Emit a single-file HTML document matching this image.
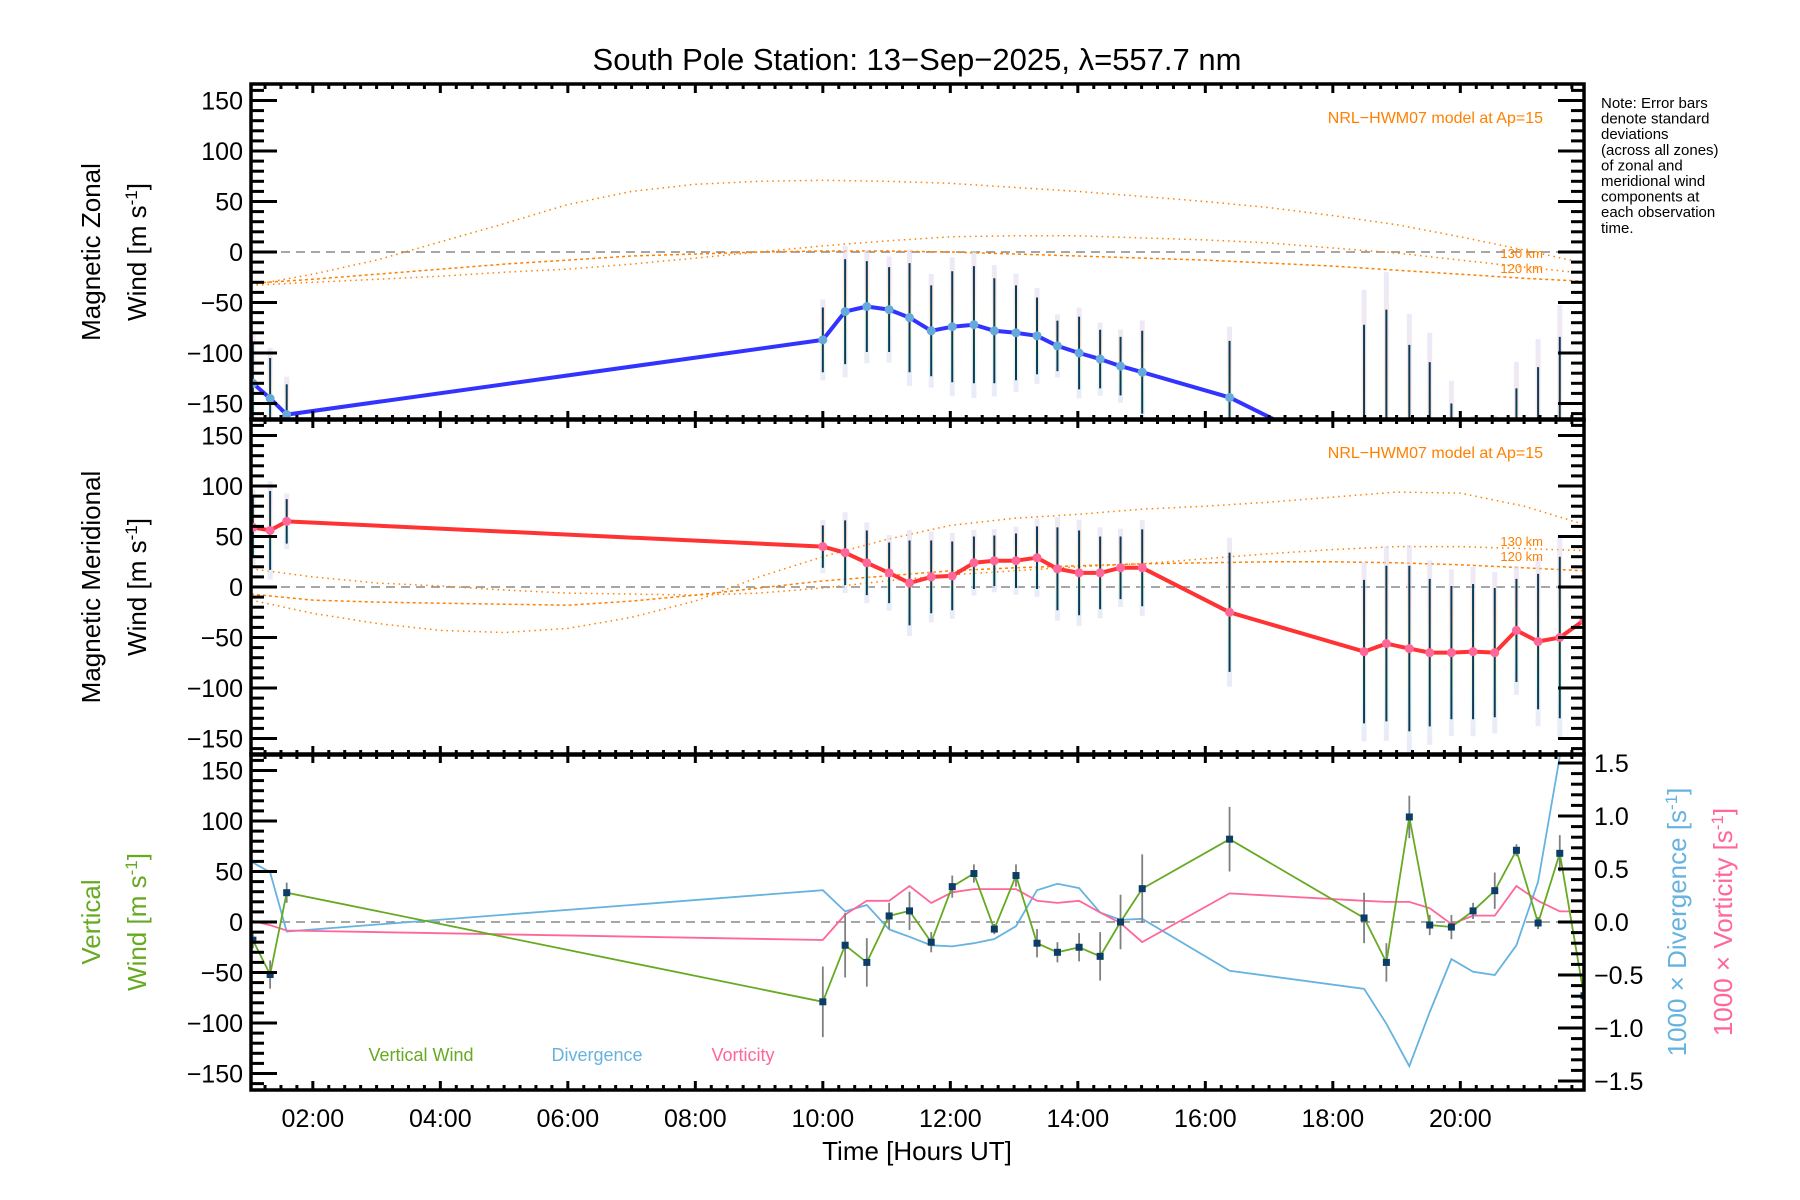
<!DOCTYPE html>
<html><head><meta charset="utf-8"><title>South Pole Station winds</title>
<style>
html,body{margin:0;padding:0;background:#fff;}
svg{display:block;font-family:"Liberation Sans",sans-serif;}
</style></head>
<body>
<svg id="chart" width="1800" height="1200" viewBox="0 0 1800 1200" xmlns="http://www.w3.org/2000/svg">
<defs>
<linearGradient id="pastel" x1="0" y1="0" x2="0" y2="1">
<stop offset="0" stop-color="#dcdcf6"/><stop offset="0.25" stop-color="#ffd6c6"/>
<stop offset="0.5" stop-color="#f8f2c8"/><stop offset="0.75" stop-color="#d4f4e0"/>
<stop offset="1" stop-color="#dcdcf6"/></linearGradient>
<clipPath id="clip0"><rect x="251" y="84" width="1333" height="336"/></clipPath>
<clipPath id="clip1"><rect x="251" y="419" width="1333" height="336"/></clipPath>
<clipPath id="clip2"><rect x="251" y="754" width="1333" height="337"/></clipPath>
</defs>
<text x="917" y="70" font-size="31" text-anchor="middle">South Pole Station: 13−Sep−2025, λ=557.7 nm</text>
<g id="notes" font-size="15">
<text x="1601" y="108">Note: Error bars</text><text x="1601" y="123.6">denote standard</text>
<text x="1601" y="139.2">deviations</text><text x="1601" y="154.8">(across all zones)</text>
<text x="1601" y="170.4">of zonal and</text><text x="1601" y="186">meridional wind</text>
<text x="1601" y="201.6">components at</text><text x="1601" y="217.2">each observation</text>
<text x="1601" y="232.8">time.</text></g>
</svg>
<script>
// ---- data ----
const obsHours = [1.06,1.33,1.59,10.0,10.35,10.69,11.04,11.36,11.70,12.03,12.37,12.69,13.03,13.36,13.68,14.02,14.35,14.67,15.01,16.38,18.49,18.84,19.20,19.52,19.86,20.20,20.54,20.88,21.22,21.56,21.94];
const zonal = [-130,-145,-161,-87,-59,-54,-57,-65,-78,-74,-72,-78,-80,-83,-93,-100,-106,-113,-119,-144,-210,-205,-215,-225,-240,-250,-250,-240,-225,-210,-200];
const zonalErr = [40,40,30,32,52,45,42,54,45,55,58,52,47,38,25,36,29,29,41,56,138,148,123,116,90,70,70,105,111,126,130];
const merid = [59,56,65,40,34,24,14,4,10,11,24,26,26,29,18,14,14,19,19,-25,-64,-56,-61,-65,-65,-64,-65,-43,-54,-50,-33];
const meridErr = [30,39,22,21,32,32,30,42,36,34,26,25,27,31,41,42,36,31,38,59,71,77,82,73,66,67,64,51,67,80,70];
const vert = [-18,-52,29,-79,-23,-40,6,11,-20,35,48,-7,46,-21,-30,-25,-34,0,33,82,4,-40,104,-3,-5,11,31,71,-1,68,-73];
const vertErr = [8,14,10,35,32,24,13,19,10,11,9,5,11,14,10,14,24,27,34,32,25,19,21,10,12,8,18,6,6,18,10];
const divergence = [0.56,0.47,-0.09,0.3,0.1,0.16,-0.07,-0.14,-0.22,-0.23,-0.2,-0.16,-0.04,0.3,0.36,0.32,0.09,0.02,0.03,-0.46,-0.63,-0.96,-1.36,-0.85,-0.35,-0.47,-0.5,-0.22,0.38,1.56,2.4];
const vorticity = [0.01,-0.03,-0.08,-0.17,0.07,0.2,0.2,0.34,0.18,0.28,0.31,0.31,0.31,0.2,0.18,0.2,0.09,-0.01,-0.19,0.27,0.2,0.19,0.19,0.13,-0.02,0.06,0.06,0.34,0.2,0.1,0.1];
const modelHours = [1.03,2,3,4,5,6,7,8,9,10,11,12,13,14,15,16,17,18,19,20,21,21.94];
const hwmZonalA = [-33,-22,-8,10,28,47,60,67,70,71,70,68,64,60,55,50,44,36,27,15,2,-11];
const hwmZonal130 = [-33,-30,-27,-24,-20,-17,-12,-6,0,6,11,15,16,16,14,12,9,4,-1,-8,-15,-21];
const hwmZonal120 = [-31,-27,-22,-17,-12,-8,-4,-2,0,1,1,0,-2,-4,-6,-8,-11,-14,-18,-22,-26,-29];
const hwmMeridA = [-13,-26,-36,-43,-45,-41,-30,-14,10,30,47,61,68,72,77,80,84,89,94,93,80,62];
const hwmMerid130 = [18,10,4,1,-3,-6,-7,-8,-6,-1,6,12,16,20,23,28,33,37,40,40,38,36];
const hwmMerid120 = [-7,-13,-15,-16,-17,-18,-14,-8,-1,6,11,16,19,21,23,24,25,25,24,22,19,16];
const xTickHours = [2,4,6,8,10,12,14,16,18,20];
const xTickLabels = ["02:00","04:00","06:00","08:00","10:00","12:00","14:00","16:00","18:00","20:00"];
const yTickValues = [150,100,50,0,-50,-100,-150];
const rTickValues = [1.5,1.0,0.5,0.0,-0.5,-1.0,-1.5];

// ---- axes functions ----
const X0=251, X1=1584, H0=1.03, H1=21.94;
const TOPS=[84,419,754], PH=336;
function xs(h){return X0+(h-H0)*(X1-X0)/(H1-H0);}
function ys(v,p){return TOPS[p]+PH/2-v*1.01;}
function yr(v){return TOPS[2]+PH/2-v*106;}
const svg=document.getElementById('chart');
const NS='http://www.w3.org/2000/svg';
function mk(tag,attrs,parent){const e=document.createElementNS(NS,tag);for(const k in attrs)e.setAttribute(k,attrs[k]);(parent||svg).appendChild(e);return e;}
function fmt(v){const s=Number.isInteger(v)?String(Math.abs(v)):Math.abs(v).toFixed(1);return (v<0?'−':'')+s;}

const panels=[];
for(let p=0;p<3;p++){
  const g=mk('g',{'clip-path':'url(#clip'+p+')'});
  
  
  panels.push(g);
  const z=mk('line',{x1:X0,x2:X1,y1:ys(0,p),y2:ys(0,p),stroke:'#888',"stroke-width":1.5,"stroke-dasharray":"9,6"},g);
  
  
}
function pathFrom(xsArr,ysArr){return xsArr.map((x,i)=>(i?'L':'M')+x.toFixed(1)+','+ysArr[i].toFixed(1)).join(' ');}

function model(vals,p,dash,name){
  const e=mk('path',{d:pathFrom(modelHours.map(xs),vals.map(v=>ys(v,p))),fill:'none',stroke:'#ff8000','stroke-width':1.5,'stroke-dasharray':dash},panels[p]);
  
  
}
model(hwmZonalA,0,'1.5,4','hwm-zonal-upper-curve');
model(hwmZonal130,0,'1.5,4','hwm-zonal-130km-curve');
model(hwmZonal120,0,'3,3','hwm-zonal-120km-curve');
model(hwmMeridA,1,'1.5,4','hwm-meridional-upper-curve');
model(hwmMerid130,1,'1.5,4','hwm-meridional-130km-curve');
model(hwmMerid120,1,'3,3','hwm-meridional-120km-curve');

function windPanel(vals,errs,p,col,mcol,name){
  const g=panels[p];
  obsHours.forEach((h,i)=>{
    const x=xs(h),e=errs[i],v=vals[i];
    const c=mk('rect',{x:x-2.5,y:ys(v+e*1.25,p),width:5,height:ys(v-e*1.25,p)-ys(v+e*1.25,p),fill:'url(#pastel)',opacity:0.6},g);
    
    
    const b=mk('line',{x1:x,x2:x,y1:ys(v+e,p),y2:ys(v-e,p),stroke:'#0a3a5a','stroke-width':2},g);
    
    
  });
  const l=mk('path',{d:pathFrom(obsHours.map(xs),vals.map(v=>ys(v,p))),fill:'none',stroke:col,'stroke-width':4,'stroke-linejoin':'round'},g);
  
  
  obsHours.forEach((h,i)=>{
    const m=mk('circle',{cx:xs(h),cy:ys(vals[i],p),r:4.5,fill:mcol},g);
    
    
  });
}
windPanel(zonal,zonalErr,0,'#3333ff','#66aadd','zonal-wind');
windPanel(merid,meridErr,1,'#ff3333','#ff6699','meridional-wind');

{
  const g=panels[2];
  const dv=mk('path',{d:pathFrom(obsHours.map(xs),divergence.map(yr)),fill:'none',stroke:'#66b3e0','stroke-width':1.8},g);
  
  
  const vo=mk('path',{d:pathFrom(obsHours.map(xs),vorticity.map(yr)),fill:'none',stroke:'#ff6699','stroke-width':1.8},g);
  
  
  obsHours.forEach((h,i)=>{
    const b=mk('line',{x1:xs(h),x2:xs(h),y1:ys(vert[i]+vertErr[i],2),y2:ys(vert[i]-vertErr[i],2),stroke:'#808080','stroke-width':1.8},g);
    
    
  });
  const vw=mk('path',{d:pathFrom(obsHours.map(xs),vert.map(v=>ys(v,2))),fill:'none',stroke:'#66aa22','stroke-width':1.8},g);
  
  
  obsHours.forEach((h,i)=>{
    const m=mk('rect',{x:xs(h)-3.5,y:ys(vert[i],2)-3.5,width:7,height:7,fill:'#0b3d66'},g);
    
    
  });
}

for(let p=0;p<3;p++){
  const ax=mk('g',{stroke:'#000'});
  
  
  const top=TOPS[p],bot=TOPS[p]+PH;
  for(let v=-160;v<=160;v+=10){
    const y=ys(v,p); if(y<top+1||y>bot-1)continue;
    const len=(v%50===0)?26:13;
    mk('line',{x1:X0,x2:X0+len,y1:y,y2:y,'stroke-width':3},ax);
    if(p<2) mk('line',{x1:X1,x2:X1-len,y1:y,y2:y,'stroke-width':3},ax);
  }
  if(p===2){
    for(let k=-15;k<=15;k++){
      const v=k/10,y=yr(v); if(y<top+1||y>bot-1)continue;
      const len=(k%5===0)?26:13;
      mk('line',{x1:X1,x2:X1-len,y1:y,y2:y,'stroke-width':3},ax);
    }
  }
  for(let q=Math.ceil(H0*4);q<=H1*4;q++){
    const h=q/4,x=xs(h),len=(q%8===0)?9:5;
    mk('line',{x1:x,x2:x,y1:top,y2:top+len,'stroke-width':3},ax);
    mk('line',{x1:x,x2:x,y1:bot,y2:bot-len,'stroke-width':3},ax);
  }
  mk('rect',{x:X0,y:top,width:X1-X0,height:PH,fill:'none','stroke-width':3.5},ax);
  yTickValues.forEach(v=>{
    const t=mk('text',{x:243,y:ys(v,p)+9,'font-size':25,'text-anchor':'end',stroke:'none'});
    t.textContent=fmt(v);
    
    
  });
}
rTickValues.forEach(v=>{
  const t=mk('text',{x:1594,y:yr(v)+9,'font-size':25});
  t.textContent=(v<0?'−':'')+Math.abs(v).toFixed(1);
  
  
});
xTickHours.forEach((h,i)=>{
  const t=mk('text',{x:xs(h),y:1127,'font-size':25,'text-anchor':'middle'});
  t.textContent=xTickLabels[i];
  
  
});
{
  const t=mk('text',{x:917,y:1160,'font-size':26,'text-anchor':'middle'});
  t.textContent='Time [Hours UT]';
  
  
}
function vtitle(x,cy,txt,sup,col,name){
  const t=mk('text',{x:0,y:0,'font-size':26,'text-anchor':'middle',fill:col,transform:'translate('+x+','+cy+') rotate(-90)'});
  t.appendChild(document.createTextNode(txt));
  if(sup){const s=mk('tspan',{'baseline-shift':'super','font-size':17},t);s.textContent='-1';
    const e=mk('tspan',{},t);e.textContent=']';}
  
  
}
vtitle(100,252,'Magnetic Zonal',false,'#000','zonal-axis-title-line1');
vtitle(146,252,'Wind [m s',true,'#000','zonal-axis-title-line2');
vtitle(100,587,'Magnetic Meridional',false,'#000','meridional-axis-title-line1');
vtitle(146,587,'Wind [m s',true,'#000','meridional-axis-title-line2');
vtitle(100,922,'Vertical',false,'#66aa22','vertical-axis-title-line1');
vtitle(146,922,'Wind [m s',true,'#66aa22','vertical-axis-title-line2');
vtitle(1686,922,'1000 × Divergence [s',true,'#66b3e0','divergence-axis-title');
vtitle(1732,922,'1000 × Vorticity [s',true,'#ff6699','vorticity-axis-title');
[[0],[1]].forEach(([p])=>{
  const a=mk('text',{x:1543,y:TOPS[p]+39,'font-size':16,'text-anchor':'end',fill:'#ff8000'});
  a.textContent='NRL−HWM07 model at Ap=15';
  
  
});
[[258,273],[546,561]].forEach(([y1,y2])=>{
  const a=mk('text',{x:1543,y:y1,'font-size':13,'text-anchor':'end',fill:'#ff8000'});a.textContent='130 km';
  
  
  const b=mk('text',{x:1543,y:y2,'font-size':13,'text-anchor':'end',fill:'#ff8000'});b.textContent='120 km';
  
  
});
[['Vertical Wind',421,'#66aa22','legend-vertical-wind'],['Divergence',597,'#66b3e0','legend-divergence'],['Vorticity',743,'#ff6699','legend-vorticity']].forEach(([s,x,c,n])=>{
  const t=mk('text',{x:x,y:1061,'font-size':18,'text-anchor':'middle',fill:c});
  t.textContent=s;
  
  
});
</script>
</body></html>
